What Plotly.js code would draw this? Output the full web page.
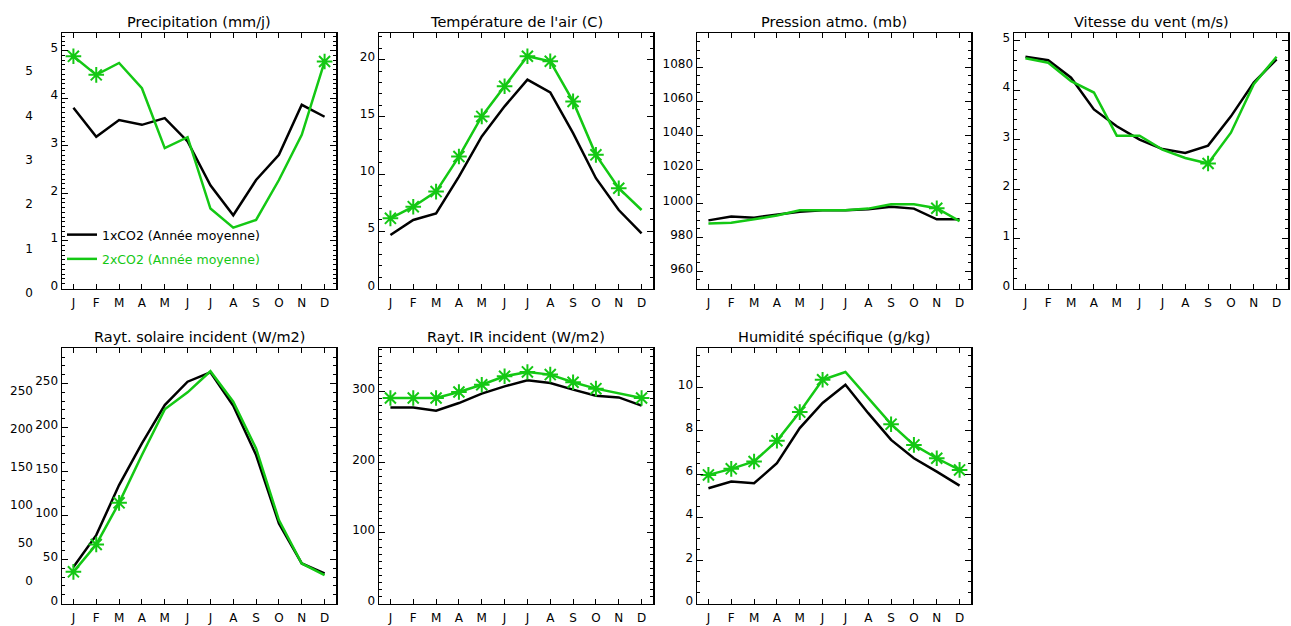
<!DOCTYPE html>
<html><head><meta charset="utf-8">
<script src="https://cdn.plot.ly/plotly-3.0.1.min.js"></script>
<style>body{margin:0;background:#fff}#chart{width:1291px;height:626px}</style>
</head><body><div id="chart"></div>
<script>
// ---------- data ----------
const months = ['J','F','M','A','M','J','J','A','S','O','N','D'];
const monthNumbers = [1,2,3,4,5,6,7,8,9,10,11,12];
const panelTitles = [
  'Precipitation (mm/j)', "Température de l'air (C)", 'Pression atmo. (mb)', 'Vitesse du vent (m/s)',
  'Rayt. solaire incident (W/m2)', 'Rayt. IR incident (W/m2)', 'Humidité spécifique (g/kg)'
];
const legendLabels = ['1xCO2 (Année moyenne)', '2xCO2 (Année moyenne)'];

const precip1x = [3.80, 3.19, 3.54, 3.44, 3.58, 3.09, 2.17, 1.54, 2.28, 2.81, 3.86, 3.61];
const precip2x = [4.88, 4.49, 4.74, 4.21, 2.95, 3.18, 1.68, 1.28, 1.44, 2.28, 3.23, 4.77];
const temp1x   = [4.67, 5.99, 6.57, 9.78, 13.29, 15.92, 18.26, 17.14, 13.58, 9.64, 6.86, 4.82];
const temp2x   = [6.13, 7.15, 8.47, 11.53, 15.04, 17.67, 20.30, 19.86, 16.35, 11.68, 8.76, 6.86];
const press1x  = [990.0, 992.2, 991.6, 993.5, 995.1, 996.0, 995.9, 996.5, 998.0, 996.9, 990.6, 990.6];
const press2x  = [988.2, 988.6, 990.6, 992.9, 995.9, 995.9, 995.9, 996.9, 999.4, 999.4, 997.1, 989.6];
const wind1x   = [4.67, 4.60, 4.25, 3.61, 3.27, 3.00, 2.81, 2.73, 2.88, 3.47, 4.15, 4.62];
const wind2x   = [4.64, 4.55, 4.18, 3.95, 3.08, 3.08, 2.80, 2.63, 2.52, 3.14, 4.12, 4.67];
const solar1x  = [41.6, 77.7, 134.6, 182.0, 225.6, 252.1, 262.8, 224.8, 168.7, 91.0, 45.5, 34.1];
const solar2x  = [36.0, 67.1, 114.4, 168.7, 220.7, 240.0, 264.0, 229.4, 176.3, 94.8, 45.5, 32.2];
const ir1x     = [277.8, 277.8, 273.2, 284.0, 297.3, 307.7, 316.2, 312.5, 303.0, 294.5, 292.0, 280.3];
const ir2x     = [291.2, 291.2, 291.2, 299.7, 310.0, 321.9, 328.1, 324.3, 313.4, 304.4, 297.3, 291.2];
const hum1x    = [5.34, 5.65, 5.57, 6.50, 8.13, 9.29, 10.14, 8.82, 7.58, 6.73, 6.11, 5.46];
const hum2x    = [5.96, 6.24, 6.58, 7.54, 8.87, 10.37, 10.73, 9.52, 8.31, 7.35, 6.73, 6.19];

// asterisk flags on the 2xCO2 curve
const precipMarks = [1,1,0,0,0,0,0,0,0,0,0,1];
const tempMarks   = [1,1,1,1,1,1,1,1,1,1,1,0];
const pressMarks  = [0,0,0,0,0,0,0,0,0,0,1,0];
const windMarks   = [0,0,0,0,0,0,0,0,1,0,0,0];
const solarMarks  = [1,1,1,0,0,0,0,0,0,0,0,0];
const irMarks     = [1,1,1,1,1,1,1,1,1,1,0,1];
const humMarks    = [1,1,1,1,1,1,0,0,1,1,1,1];

// y tick values
const precipTicks = [0,1,2,3,4,5];
const tempTicks   = [0,5,10,15,20];
const pressTicks  = [960,980,1000,1020,1040,1060,1080];
const windTicks   = [0,1,2,3,4,5];
const solarTicks  = [0,50,100,150,200,250];
const irTicks     = [0,100,200,300];
const humTicks    = [0,2,4,6,8,10];
// stray duplicate labels drawn left of two panels
const ghostPrecipTicks = [0,1,2,3,4,5];
const ghostSolarTicks  = [0,50,100,150,200,250];

// ---------- layout ----------
const W = 1291, H = 626;
const FONT = 'DejaVu Sans';
const GREEN = '#14c814';
const colLeft = [62, 379, 697, 1014];
const boxW = 274;
const rowTop = [33, 348];
const boxH = 255.5;

const panels = [
  {b: precip1x, g: precip2x, m: precipMarks, ticks: precipTicks, range: [0, 5.37], minor: 0.1, col: 0, row: 0},
  {b: temp1x,   g: temp2x,   m: tempMarks,   ticks: tempTicks,   range: [0, 22.33], minor: 1, col: 1, row: 0},
  {b: press1x,  g: press2x,  m: pressMarks,  ticks: pressTicks,  range: [950, 1100], minor: 5, col: 2, row: 0},
  {b: wind1x,   g: wind2x,   m: windMarks,   ticks: windTicks,   range: [0, 5.15], minor: 0.2, col: 3, row: 0},
  {b: solar1x,  g: solar2x,  m: solarMarks,  ticks: solarTicks,  range: [0, 290.4], minor: 10, col: 0, row: 1},
  {b: ir1x,     g: ir2x,     m: irMarks,     ticks: irTicks,     range: [0, 362], minor: 10, col: 1, row: 1},
  {b: hum1x,    g: hum2x,    m: humMarks,    ticks: humTicks,    range: [0, 11.84], minor: 0.5, col: 2, row: 1}
];

const traces = [];
const layout = {
  width: W, height: H,
  margin: {l: 0, r: 0, t: 0, b: 0},
  paper_bgcolor: '#fff', plot_bgcolor: '#fff',
  font: {family: FONT, size: 12, color: '#000'},
  showlegend: true,
  legend: {x: 62 / W, y: 1 - 220 / H, xanchor: 'left', yanchor: 'top',
           bgcolor: 'rgba(0,0,0,0)', borderwidth: 0, font: {family: FONT, size: 12.5, color: '#000'},
           traceorder: 'grouped', tracegroupgap: 5},
  annotations: []
};

const axisCommon = {
  showline: true, linecolor: '#000', linewidth: 1.5, mirror: 'allticks',
  ticks: 'inside', ticklen: 6, tickwidth: 1, tickcolor: '#000',
  showgrid: false, zeroline: false, fixedrange: true,
  tickfont: {family: FONT, size: 12, color: '#000'}
};

panels.forEach((p, i) => {
  const n = i + 1;
  const xa = 'x' + (n === 1 ? '' : n), ya = 'y' + (n === 1 ? '' : n);
  const left = colLeft[p.col], top = rowTop[p.row];
  layout['xaxis' + (n === 1 ? '' : n)] = Object.assign({}, axisCommon, {
    domain: [left / W, (left + boxW) / W], range: [0.5, 12.5], anchor: ya,
    tickmode: 'array', tickvals: monthNumbers, ticktext: months, ticklen: 5,
    ticklabelstandoff: 3
  });
  layout['yaxis' + (n === 1 ? '' : n)] = Object.assign({}, axisCommon, {
    domain: [1 - (top + boxH) / H, 1 - top / H], range: p.range, anchor: xa,
    tickmode: 'array', tickvals: p.ticks, ticklabelshift: -3,
    minor: {ticks: 'inside', ticklen: 3, dtick: p.minor, tick0: 0, tickcolor: '#000', tickwidth: 1, showgrid: false}
  });
  traces.push({
    x: monthNumbers, y: p.b, xaxis: xa, yaxis: ya, mode: 'lines',
    line: {color: '#000', width: 2.5}, name: legendLabels[0],
    showlegend: n === 1, legendgroup: 'a', hoverinfo: 'skip'
  });
  traces.push({
    x: monthNumbers, y: p.g, xaxis: xa, yaxis: ya, mode: 'lines',
    line: {color: GREEN, width: 2.5},
    name: '<span style="color:' + GREEN + '">' + legendLabels[1] + '</span>',
    showlegend: n === 1, legendgroup: 'b', hoverinfo: 'skip'
  });
  traces.push({
    x: monthNumbers.filter((_, k) => p.m[k]), y: p.g.filter((_, k) => p.m[k]),
    xaxis: xa, yaxis: ya, mode: 'markers', showlegend: false, hoverinfo: 'skip',
    marker: {symbol: 'asterisk-open', size: 13, color: GREEN, line: {color: GREEN, width: 2}}
  });
  layout.annotations.push({
    text: panelTitles[i], xref: 'paper', yref: 'paper',
    x: (left + boxW / 2) / W, y: 1 - (top - 11) / H, xanchor: 'center', yanchor: 'middle',
    showarrow: false, font: {family: FONT, size: 14.5, color: '#000'}
  });
});

// stray duplicated labels (left of panels 1 and 5)
function ghost(n, ticks, pxTop, pxBottom, range) {
  layout['xaxis' + n] = {domain: [34 / W, 40 / W], visible: false, anchor: 'y' + n, fixedrange: true};
  layout['yaxis' + n] = {
    domain: [1 - pxBottom / H, 1 - pxTop / H], range: range, anchor: 'x' + n,
    showline: false, ticks: '', showgrid: false, zeroline: false, fixedrange: true,
    tickmode: 'array', tickvals: ticks, tickfont: {family: FONT, size: 12, color: '#000'}
  };
  traces.push({x: [], y: [], xaxis: 'x' + n, yaxis: 'y' + n, mode: 'lines', showlegend: false, hoverinfo: 'skip'});
}
ghost(8, ghostPrecipTicks, 60, 300, [-0.158, 5.248]);
ghost(9, ghostSolarTicks, 340, 590, [-11.8, 317.1]);

Plotly.newPlot('chart', traces, layout, {staticPlot: true, displayModeBar: false});
</script>
</body></html>
